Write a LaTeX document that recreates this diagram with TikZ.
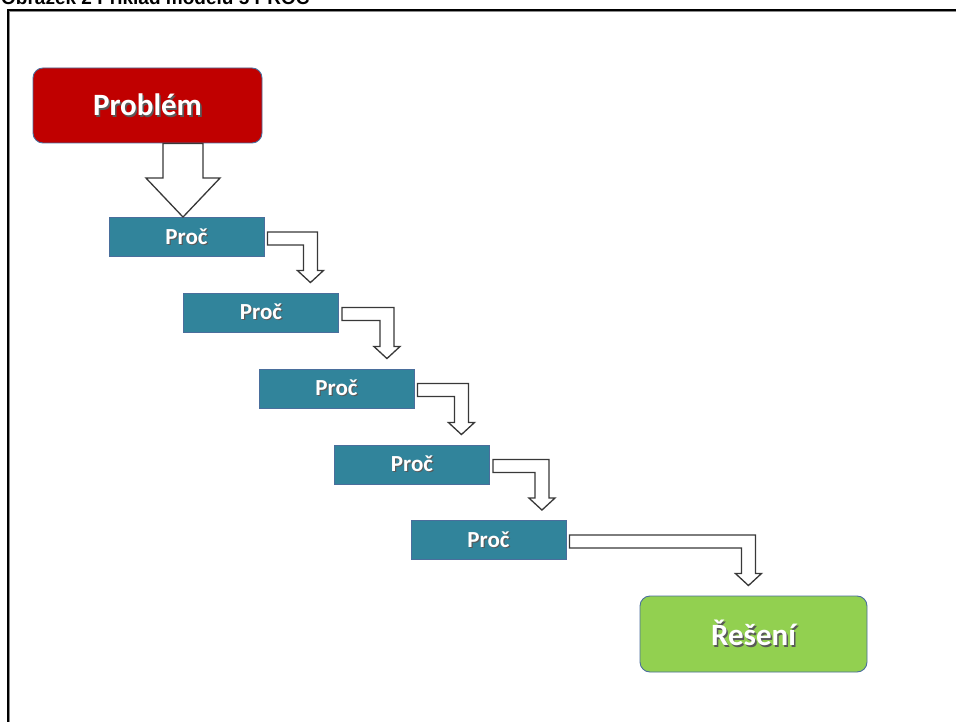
\documentclass[tikz,border=0pt]{standalone}
\usepackage{fontspec}
\setmainfont{Carlito}
\newfontfamily\capfont{Liberation Sans}
\usetikzlibrary{calc}

\definecolor{probred}{HTML}{C00000}
\definecolor{whyteal}{HTML}{31849B}
\definecolor{solgreen}{HTML}{92D050}
\definecolor{boxedge}{HTML}{4A6E9C}
\definecolor{arrowedge}{HTML}{383838}

% white lettering with a soft dark drop shadow
\newcommand\shtext[1]{\leavevmode\rlap{\kern0.05em\raisebox{-0.05em}{\color{black!65}#1}}#1}

% hollow bent arrow: right from the source box, then down to the target box
% #1 source node, #2 target node, #3 tip offset (pt) right of the source's east side
\newcommand\bentarrow[3]{%
  \draw[blockarrow] let \p1=(#1.north east), \p2=(#2.north) in
    (\x1+3pt,\y1-15pt) -- (\x1+#3pt+7pt,\y1-15pt) -- (\x1+#3pt+7pt,\y2+22pt)
    -- (\x1+#3pt+13pt,\y2+22pt) -- (\x1+#3pt,\y2+10pt) -- (\x1+#3pt-13pt,\y2+22pt)
    -- (\x1+#3pt-7pt,\y2+22pt) -- (\x1+#3pt-7pt,\y1-28pt) -- (\x1+3pt,\y1-28pt) -- cycle;}

\begin{document}
\begin{tikzpicture}[x=1pt,y=-1pt,
  endbox/.style={draw=boxedge, line width=0.9pt, rounded corners=10pt, inner sep=0pt,
    text=white, font=\bfseries\fontsize{31}{33}\selectfont},
  whybox/.style={draw=boxedge, line width=0.9pt, fill=whyteal, inner sep=0pt,
    minimum width=155pt, minimum height=39pt, text=white,
    font=\bfseries\fontsize{23}{25}\selectfont},
  blockarrow/.style={draw=arrowedge, fill=white, line width=1.3pt, line join=miter}]

\useasboundingbox (0,0) rectangle (956,722);
\fill[white] (0,0) rectangle (956,722);

% caption, its upper part lying beyond the page edge
\node[anchor=base west, inner sep=0pt, font=\capfont\bfseries\fontsize{19}{19}\selectfont]
  (caption) at (1,5) {Obrázek 2 Příklad modelu 5 PROČ};

% frame
\draw[black!45, line width=1pt] (9.6,722) -- (9.6,11.6) -- (956,11.6);
\draw[black, line width=1.6pt] (8,722) -- (8,10) -- (956,10);

% boxes
\node[endbox, fill=probred, minimum width=229pt, minimum height=75pt]
  (prob) at (147.5,105.5) {\shtext{Problém}};
\node[whybox] (w1) at (186.5,237) {\shtext{Proč}};
\node[whybox] (w2) at (261,312.5) {\shtext{Proč}};
\node[whybox] (w3) at (336.5,388.5) {\shtext{Proč}};
\node[whybox] (w4) at (412,464.5) {\shtext{Proč}};
\node[whybox] (w5) at (488.5,540) {\shtext{Proč}};
\node[endbox, fill=solgreen, minimum width=227pt, minimum height=76pt]
  (sol) at (753.5,634) {\shtext{Řešení}};

% wide arrow from the problem to the first question
\draw[blockarrow] let \p1=(w1.north), \p2=(prob.south) in
  (\x1-23.5pt,\y2) -- (\x1+16.5pt,\y2) -- (\x1+16.5pt,\y1+39pt)
  -- (\x1+33.5pt,\y1+39pt) -- (\x1-3.5pt,\y1) -- (\x1-40.5pt,\y1+39pt)
  -- (\x1-23.5pt,\y1+39pt) -- cycle;

% bent arrows down the chain of questions
\bentarrow{w1}{w2}{46}
\bentarrow{w2}{w3}{48}
\bentarrow{w3}{w4}{47}
\bentarrow{w4}{w5}{52}
\bentarrow{w5}{sol}{182}

\end{tikzpicture}
\end{document}
